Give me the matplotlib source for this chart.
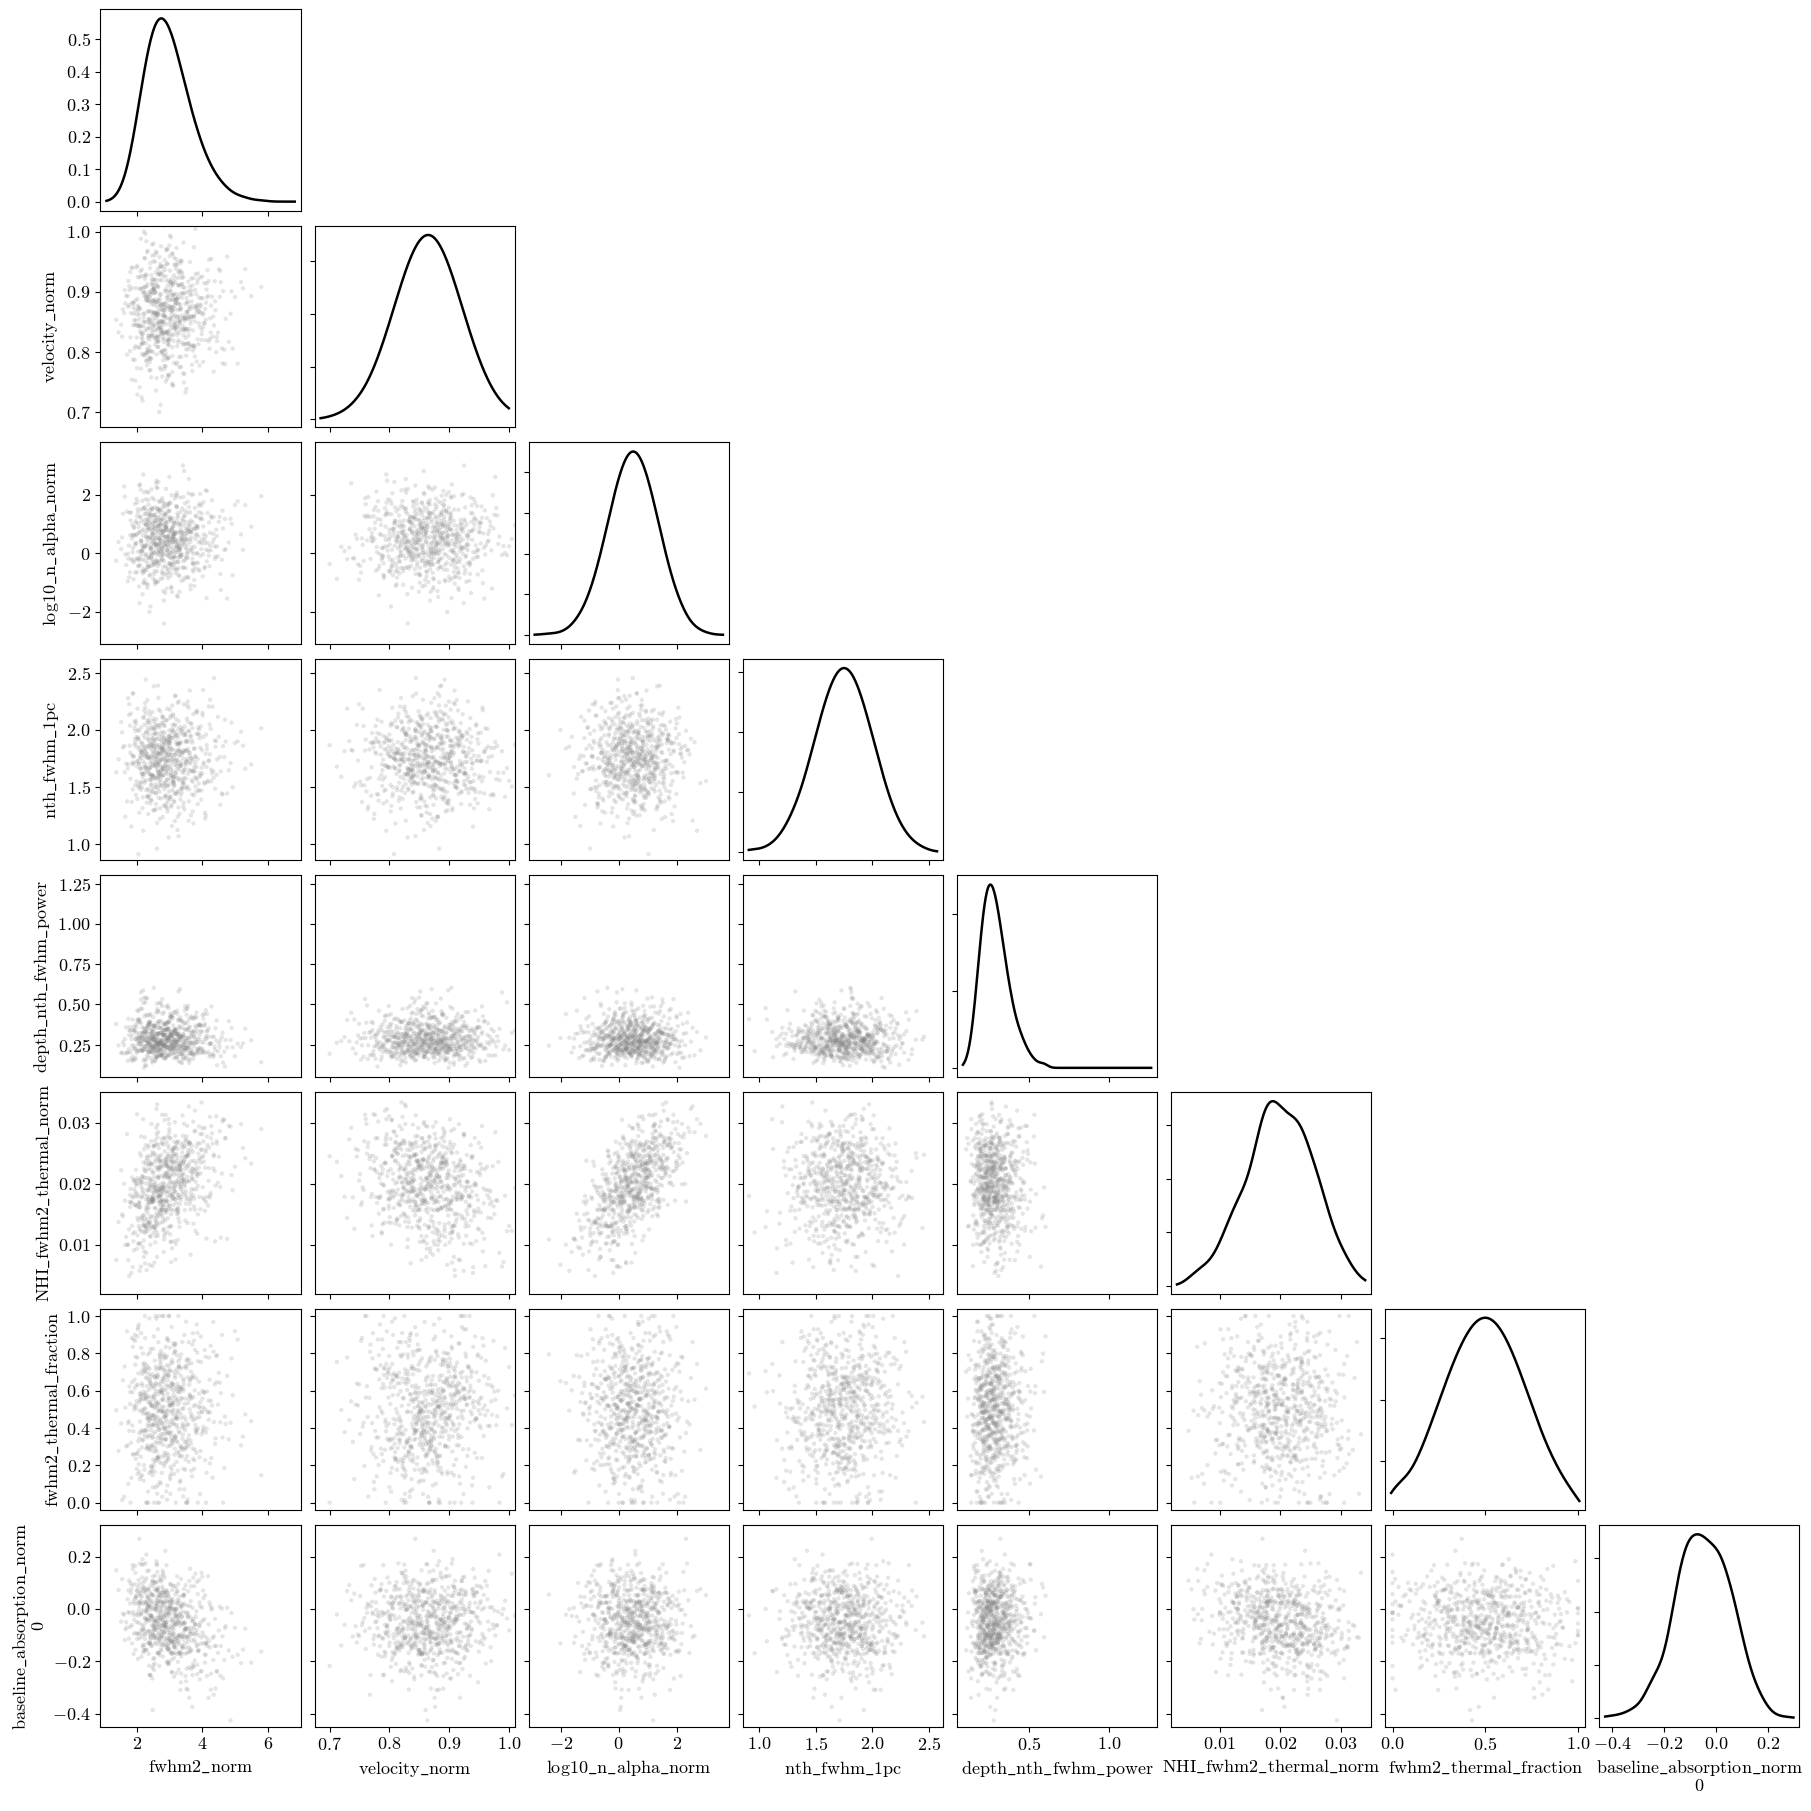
import numpy as np
import matplotlib
matplotlib.use("Agg")
import matplotlib.pyplot as plt

plt.rcParams['font.family'] = ['cmr10', 'DejaVu Serif']
plt.rcParams['mathtext.fontset'] = 'cm'
plt.rcParams['axes.formatter.use_mathtext'] = True
plt.rcParams['font.size'] = 13

names = ["fwhm2_norm", "velocity_norm", "log10_n_alpha_norm", "nth_fwhm_1pc",
         "depth_nth_fwhm_power", "NHI_fwhm2_thermal_norm", "fwhm2_thermal_fraction",
         "baseline_absorption_norm\n0"]
means = [3.0, 0.865, 0.5, 1.75, 0.30, 0.020, 0.5, -0.05]
stds = [0.75, 0.055, 0.85, 0.25, 0.10, 0.0055, 0.23, 0.11]
lims = [(0.9, 7.0), (0.675, 1.01), (-3.1, 3.8), (0.86, 2.62), (0.05, 1.3),
        (0.002, 0.035), (-0.04, 1.04), (-0.45, 0.32)]
xticks = [[2, 4, 6], [0.7, 0.8, 0.9, 1.0], [-2, 0, 2], [1.0, 1.5, 2.0, 2.5], [0.5, 1.0],
          [0.01, 0.02, 0.03], [0.0, 0.5, 1.0], [-0.4, -0.2, 0.0, 0.2]]
yticks = [[0, 0.1, 0.2, 0.3, 0.4, 0.5], [0.7, 0.8, 0.9, 1.0], [-2, 0, 2], [1.0, 1.5, 2.0, 2.5],
          [0.25, 0.5, 0.75, 1.0, 1.25], [0.01, 0.02, 0.03], [0, 0.2, 0.4, 0.6, 0.8, 1.0],
          [-0.4, -0.2, 0.0, 0.2]]
corr = np.eye(8)
corr[0, 5] = corr[5, 0] = 0.4
corr[1, 5] = corr[5, 1] = -0.3
corr[2, 5] = corr[5, 2] = 0.6
corr[0, 7] = corr[7, 0] = -0.4
corr[5, 7] = corr[7, 5] = -0.2
n_samples = 700

def halton(n, base):
    out = np.zeros(n)
    for i in range(n):
        f, r, k = 1.0, 0.0, i + 1
        while k > 0:
            f /= base
            r += f * (k % base)
            k //= base
        out[i] = r
    return out

def ppf(u):
    a = [-3.969683028665376e+01, 2.209460984245205e+02, -2.759285104469687e+02,
         1.383577518672690e+02, -3.066479806614716e+01, 2.506628277459239e+00]
    b = [-5.447609879822406e+01, 1.615858368580409e+02, -1.556989798598866e+02,
         6.680131188771972e+01, -1.328068155288572e+01]
    c = [-7.784894002430293e-03, -3.223964580411365e-01, -2.400758277161838e+00,
         -2.549732539343734e+00, 4.374664141464968e+00, 2.938163982698783e+00]
    d = [7.784695709041462e-03, 3.224671290700398e-01, 2.445134137142996e+00, 3.754408661907416e+00]
    u = np.clip(u, 1e-6, 1 - 1e-6)
    x = np.empty_like(u)
    lo = u < 0.02425; hi = u > 1 - 0.02425; mid = ~(lo | hi)
    q = np.sqrt(-2 * np.log(u[lo]))
    x[lo] = (((((c[0]*q+c[1])*q+c[2])*q+c[3])*q+c[4])*q+c[5])/((((d[0]*q+d[1])*q+d[2])*q+d[3])*q+1)
    q = np.sqrt(-2 * np.log(1 - u[hi]))
    x[hi] = -(((((c[0]*q+c[1])*q+c[2])*q+c[3])*q+c[4])*q+c[5])/((((d[0]*q+d[1])*q+d[2])*q+d[3])*q+1)
    q = u[mid] - 0.5; r = q * q
    x[mid] = (((((a[0]*r+a[1])*r+a[2])*r+a[3])*r+a[4])*r+a[5])*q/(((((b[0]*r+b[1])*r+b[2])*r+b[3])*r+b[4])*r+1)
    return x

primes = [2, 3, 5, 7, 11, 13, 17, 19]
Z = np.column_stack([ppf(halton(n_samples, p)[np.argsort(halton(n_samples, primes[(k + 3) % 8]))]) for k, p in enumerate(primes)])
Z = Z @ np.linalg.cholesky(corr).T
data = np.zeros_like(Z)
for k in range(8):
    data[:, k] = means[k] + stds[k] * Z[:, k]
data[:, 0] = np.exp(np.log(2.9) + 0.24 * Z[:, 0])
data[:, 4] = np.exp(np.log(0.28) + 0.3 * Z[:, 4])
data[:, 6] = np.clip(data[:, 6], 0.0, 1.0)

def tex(s):
    return "\n".join(r"$\mathrm{" + line.replace("_", r"\_") + "}$" for line in s.split("\n"))

S = 1568.0
fig = plt.figure(figsize=(18.11, 18.11), dpi=100)
L, R, T, B = 87/S, 1558/S, 1 - 8/S, 1 - 1495/S
gap_x, gap_y = 12/S, 13/S
w = (R - L - 7 * gap_x) / 8
h = (T - B - 7 * gap_y) / 8
for i in range(8):
    for j in range(i + 1):
        ax = fig.add_axes([L + j * (w + gap_x), T - (i + 1) * h - i * gap_y, w, h])
        if i == j:
            x = data[:, i]
            gx = np.linspace(lims[i][0] + 0.03 * (lims[i][1]-lims[i][0]), lims[i][1] - 0.03 * (lims[i][1]-lims[i][0]), 300)
            bw = 1.06 * x.std() * len(x) ** (-0.2)
            dens = np.exp(-0.5 * ((gx[:, None] - x[None, :]) / bw) ** 2).sum(1) / (len(x) * bw * np.sqrt(2 * np.pi))
            ax.plot(gx, dens, color='black', lw=1.8)
            ax.set_xlim(lims[i])
            if i != 0:
                ax.set_yticklabels([])
            else:
                ax.set_yticks(yticks[0])
        else:
            ax.scatter(data[:, j], data[:, i], s=10, color='grey', alpha=0.2, edgecolors='none')
            ax.set_xlim(lims[j]); ax.set_ylim(lims[i])
            ax.set_yticks(yticks[i])
            if j != 0:
                ax.set_yticklabels([])
        ax.set_xticks(xticks[j])
        if i != 7:
            ax.set_xticklabels([])
        else:
            ax.set_xlabel(tex(names[j]), fontsize=13, linespacing=1.0)
        if j == 0 and i > 0:
            ax.set_ylabel(tex(names[i]), fontsize=13, linespacing=1.0)
fig.savefig("out.png", dpi=100)
